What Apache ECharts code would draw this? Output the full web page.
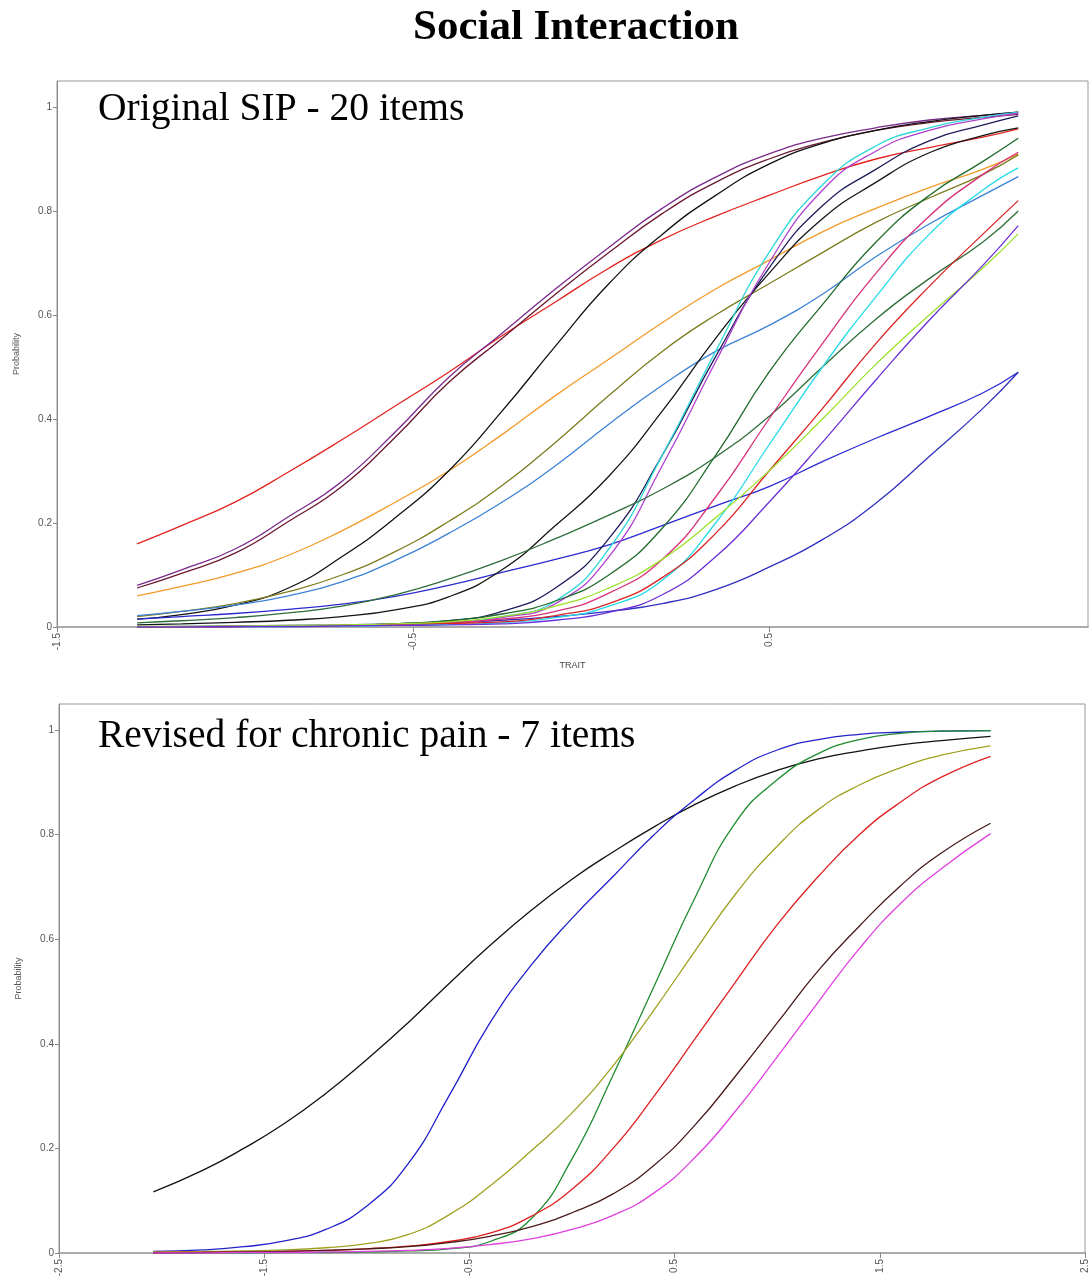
<!DOCTYPE html>
<html>
<head>
<meta charset="utf-8">
<script src="https://cdn.jsdelivr.net/npm/echarts@6/dist/echarts.min.js"></script>
<style>html,body{margin:0;padding:0;background:#fff}#c{width:1090px;height:1281px}</style>
</head>
<body>
<div id="c"></div>
<script>
// ---------- top panel: Original SIP - 20 items ----------
const topX = [-1.275, -1.15, -1.0, -0.85, -0.7, -0.55, -0.4, -0.25, -0.1, 0.05, 0.2, 0.35, 0.5, 0.65, 0.8, 0.95, 1.1, 1.2];
const topXTicks = [-1.5, -0.5, 0.5];
const yTicks = [0, 0.2, 0.4, 0.6, 0.8, 1];

const tRed      = [0.16, 0.195, 0.24, 0.298, 0.36, 0.425, 0.49, 0.56, 0.625, 0.69, 0.745, 0.79, 0.83, 0.868, 0.9, 0.922, 0.942, 0.958];
const tPurple   = [0.08, 0.11, 0.15, 0.212, 0.28, 0.375, 0.48, 0.565, 0.65, 0.73, 0.805, 0.865, 0.91, 0.94, 0.96, 0.975, 0.984, 0.99];
const tMaroon   = [0.075, 0.103, 0.142, 0.203, 0.27, 0.365, 0.47, 0.555, 0.64, 0.72, 0.795, 0.855, 0.9, 0.932, 0.955, 0.97, 0.98, 0.986];
const tOrange   = [0.06, 0.078, 0.103, 0.138, 0.185, 0.24, 0.3, 0.37, 0.445, 0.515, 0.585, 0.65, 0.705, 0.76, 0.805, 0.845, 0.88, 0.91];
const tBlack1   = [0.015, 0.024, 0.042, 0.075, 0.135, 0.21, 0.3, 0.415, 0.54, 0.66, 0.755, 0.83, 0.89, 0.93, 0.955, 0.972, 0.984, 0.99];
const tOlive    = [0.02, 0.03, 0.045, 0.068, 0.1, 0.145, 0.203, 0.272, 0.355, 0.445, 0.53, 0.6, 0.66, 0.72, 0.778, 0.825, 0.87, 0.908];
const tSteel    = [0.022, 0.03, 0.042, 0.06, 0.087, 0.128, 0.18, 0.24, 0.31, 0.39, 0.465, 0.53, 0.58, 0.64, 0.712, 0.775, 0.83, 0.866];
const tBlueLow  = [0.015, 0.02, 0.026, 0.034, 0.044, 0.059, 0.08, 0.105, 0.13, 0.158, 0.195, 0.233, 0.27, 0.318, 0.363, 0.405, 0.45, 0.49];
const tBlueStp  = [0.0, 0.001, 0.002, 0.003, 0.004, 0.006, 0.009, 0.013, 0.02, 0.03, 0.045, 0.072, 0.115, 0.168, 0.238, 0.328, 0.42, 0.49];
const tBlack2   = [0.004, 0.006, 0.009, 0.013, 0.02, 0.033, 0.058, 0.11, 0.195, 0.29, 0.415, 0.555, 0.68, 0.785, 0.855, 0.912, 0.945, 0.96];
const tNavy     = [0.0, 0.0, 0.001, 0.002, 0.003, 0.006, 0.012, 0.03, 0.075, 0.17, 0.33, 0.52, 0.69, 0.81, 0.88, 0.935, 0.965, 0.983];
const tCyan     = [0.0, 0.0, 0.001, 0.001, 0.002, 0.004, 0.008, 0.02, 0.05, 0.15, 0.33, 0.53, 0.72, 0.85, 0.925, 0.96, 0.98, 0.99];
const tViolet   = [0.0, 0.0, 0.001, 0.001, 0.002, 0.003, 0.007, 0.018, 0.045, 0.135, 0.31, 0.51, 0.70, 0.84, 0.915, 0.955, 0.977, 0.988];
const tGreen1   = [0.0, 0.0, 0.001, 0.002, 0.003, 0.006, 0.012, 0.025, 0.05, 0.1, 0.19, 0.33, 0.49, 0.62, 0.74, 0.83, 0.895, 0.94];
const tGreen2   = [0.008, 0.012, 0.018, 0.027, 0.04, 0.062, 0.092, 0.128, 0.17, 0.215, 0.265, 0.327, 0.405, 0.5, 0.592, 0.67, 0.74, 0.80];
const tPink     = [0.0, 0.0, 0.001, 0.002, 0.003, 0.005, 0.009, 0.015, 0.03, 0.065, 0.13, 0.25, 0.4, 0.545, 0.68, 0.79, 0.87, 0.913];
const tCyan2    = [0.0, 0.0, 0.001, 0.001, 0.002, 0.003, 0.005, 0.008, 0.018, 0.04, 0.09, 0.2, 0.35, 0.5, 0.635, 0.755, 0.84, 0.883];
const tRed2     = [0.0, 0.0, 0.001, 0.002, 0.003, 0.005, 0.007, 0.01, 0.022, 0.045, 0.095, 0.18, 0.3, 0.42, 0.545, 0.655, 0.755, 0.82];
const tLime     = [0.001, 0.001, 0.002, 0.003, 0.004, 0.006, 0.01, 0.02, 0.04, 0.075, 0.13, 0.21, 0.3, 0.4, 0.505, 0.6, 0.69, 0.756];
const tPurple2  = [0.0, 0.0, 0.001, 0.001, 0.002, 0.003, 0.004, 0.006, 0.013, 0.028, 0.062, 0.135, 0.24, 0.355, 0.475, 0.59, 0.695, 0.772];

// ---------- bottom panel: Revised for chronic pain - 7 items ----------
const botX = [-2.04, -1.8, -1.6, -1.4, -1.2, -1.0, -0.8, -0.6, -0.4, -0.2, 0, 0.2, 0.4, 0.6, 0.8, 1.0, 1.2, 1.4, 1.6, 1.8, 2.04];
const botXTicks = [-2.5, -1.5, -0.5, 0.5, 1.5, 2.5];

const bBlack   = [0.117, 0.158, 0.2, 0.248, 0.305, 0.37, 0.44, 0.515, 0.588, 0.655, 0.715, 0.767, 0.815, 0.858, 0.894, 0.923, 0.945, 0.96, 0.972, 0.98, 0.988];
const bBlue    = [0.003, 0.006, 0.012, 0.023, 0.045, 0.09, 0.17, 0.3, 0.44, 0.55, 0.64, 0.72, 0.8, 0.868, 0.924, 0.962, 0.982, 0.992, 0.996, 0.998, 0.999];
const bGreen   = [0.0, 0.0, 0.0, 0.001, 0.001, 0.002, 0.004, 0.008, 0.022, 0.065, 0.18, 0.34, 0.51, 0.68, 0.825, 0.905, 0.955, 0.982, 0.994, 0.998, 0.999];
const bOlive   = [0.002, 0.003, 0.004, 0.006, 0.01, 0.018, 0.035, 0.073, 0.128, 0.195, 0.268, 0.358, 0.465, 0.578, 0.688, 0.778, 0.848, 0.895, 0.928, 0.952, 0.97];
const bRed     = [0.001, 0.001, 0.002, 0.003, 0.005, 0.008, 0.013, 0.022, 0.038, 0.07, 0.122, 0.2, 0.3, 0.41, 0.52, 0.628, 0.72, 0.8, 0.862, 0.91, 0.95];
const bDark    = [0.0, 0.001, 0.002, 0.003, 0.005, 0.008, 0.012, 0.02, 0.032, 0.05, 0.077, 0.113, 0.168, 0.245, 0.34, 0.44, 0.54, 0.625, 0.702, 0.765, 0.822];
const bMagenta = [0.0, 0.0, 0.001, 0.001, 0.002, 0.003, 0.005, 0.009, 0.016, 0.027, 0.045, 0.072, 0.115, 0.183, 0.273, 0.375, 0.48, 0.582, 0.668, 0.735, 0.802];

const topSeries = [
  [tRed, '#e3231d'], [tPurple, '#7a2a8c'], [tMaroon, '#6b1830'], [tOrange, '#f39a2a'],
  [tBlack1, '#111111'], [tOlive, '#7c7c1e'], [tSteel, '#3b82d6'], [tBlueLow, '#2a2ad0'],
  [tBlueStp, '#3030c0'], [tBlack2, '#151515'], [tNavy, '#1d1d5a'], [tCyan, '#30d6d6'],
  [tViolet, '#b040d0'], [tGreen1, '#216b2c'], [tGreen2, '#2f6e3a'], [tPink, '#d8307a'],
  [tCyan2, '#25dbe8'], [tRed2, '#dc2424'], [tLime, '#9be02a'], [tPurple2, '#6b30d8']
];
const botSeries = [
  [bBlack, '#111111'], [bBlue, '#2222cc'], [bGreen, '#1e8c2e'], [bOlive, '#a0a020'],
  [bRed, '#e02020'], [bDark, '#4a1a1a'], [bMagenta, '#e040e0']
];

function fmt(list) {
  return function (v) {
    const r = Math.round(v * 10) / 10;
    return list.indexOf(r) >= 0 ? String(r) : '';
  };
}
const labelStyle = { color: '#555', fontSize: 10, fontFamily: 'Liberation Sans, Arial, sans-serif' };

function mkX(idx, min, max, ticks, withName) {
  return {
    type: 'value', gridIndex: idx, min: min, max: max, interval: 1,
    name: withName ? 'TRAIT' : '', nameLocation: 'middle', nameGap: 34,
    nameTextStyle: { color: '#444', fontSize: 9, fontFamily: 'Liberation Sans, Arial, sans-serif' },
    axisLine: { show: true, onZero: false, lineStyle: { color: '#aaa', width: 2 } },
    axisTick: { show: true, length: 5, customValues: ticks, lineStyle: { color: '#888' } },
    axisLabel: Object.assign({ rotate: 90, margin: 6, customValues: ticks, formatter: fmt(ticks) }, labelStyle),
    splitLine: { show: false }
  };
}
function mkY(idx) {
  return {
    type: 'value', gridIndex: idx, min: 0, max: 1.05, interval: 0.2,
    name: 'Probability', nameLocation: 'middle', nameGap: 36, nameRotate: 90,
    nameTextStyle: { color: '#555', fontSize: 9, fontFamily: 'Liberation Sans, Arial, sans-serif' },
    axisLine: { show: true, onZero: false, lineStyle: { color: '#888', width: 1 } },
    axisTick: { show: true, length: 4, customValues: yTicks, lineStyle: { color: '#888' } },
    axisLabel: Object.assign({ margin: 5, customValues: yTicks, formatter: fmt(yTicks) }, labelStyle),
    splitLine: { show: false }
  };
}

const series = [];
topSeries.forEach(function (s) {
  series.push({
    type: 'line', xAxisIndex: 0, yAxisIndex: 0, smooth: 0.5,
    showSymbol: false, symbol: 'none', silent: true,
    data: topX.map(function (x, i) { return [x, s[0][i]]; }),
    lineStyle: { width: 1.3, color: s[1] }, itemStyle: { color: s[1] }
  });
});
botSeries.forEach(function (s) {
  series.push({
    type: 'line', xAxisIndex: 1, yAxisIndex: 1, smooth: 0.5,
    showSymbol: false, symbol: 'none', silent: true,
    data: botX.map(function (x, i) { return [x, s[0][i]]; }),
    lineStyle: { width: 1.3, color: s[1] }, itemStyle: { color: s[1] }
  });
});

const chart = echarts.init(document.getElementById('c'), null, { renderer: 'canvas' });
chart.setOption({
  animation: false,
  backgroundColor: '#fff',
  grid: [
    { left: 57, top: 81, width: 1031, height: 546, show: true, borderColor: '#999', borderWidth: 1, backgroundColor: '#fff' },
    { left: 59, top: 704, width: 1029, height: 549, show: true, borderColor: '#999', borderWidth: 1, backgroundColor: '#fff' }
  ],
  xAxis: [mkX(0, -1.5, 1.396, topXTicks, true), mkX(1, -2.5, 2.5, botXTicks, false)],
  yAxis: [mkY(0), mkY(1)],
  series: series,
  graphic: [
    { type: 'text', x: 576, y: 28, style: { text: 'Social Interaction', fontFamily: 'Liberation Serif, Times New Roman, serif', fontSize: 43, fontWeight: 'bold', fill: '#000', align: 'center', verticalAlign: 'middle' } },
    { type: 'text', x: 98, y: 110, z: 100, style: { text: 'Original SIP - 20 items', fontFamily: 'Liberation Serif, Times New Roman, serif', fontSize: 39.5, fill: '#000', align: 'left', verticalAlign: 'middle' } },
    { type: 'text', x: 98, y: 737, z: 100, style: { text: 'Revised for chronic pain - 7 items', fontFamily: 'Liberation Serif, Times New Roman, serif', fontSize: 39.5, fill: '#000', align: 'left', verticalAlign: 'middle' } }
  ]
});
</script>
</body>
</html>
